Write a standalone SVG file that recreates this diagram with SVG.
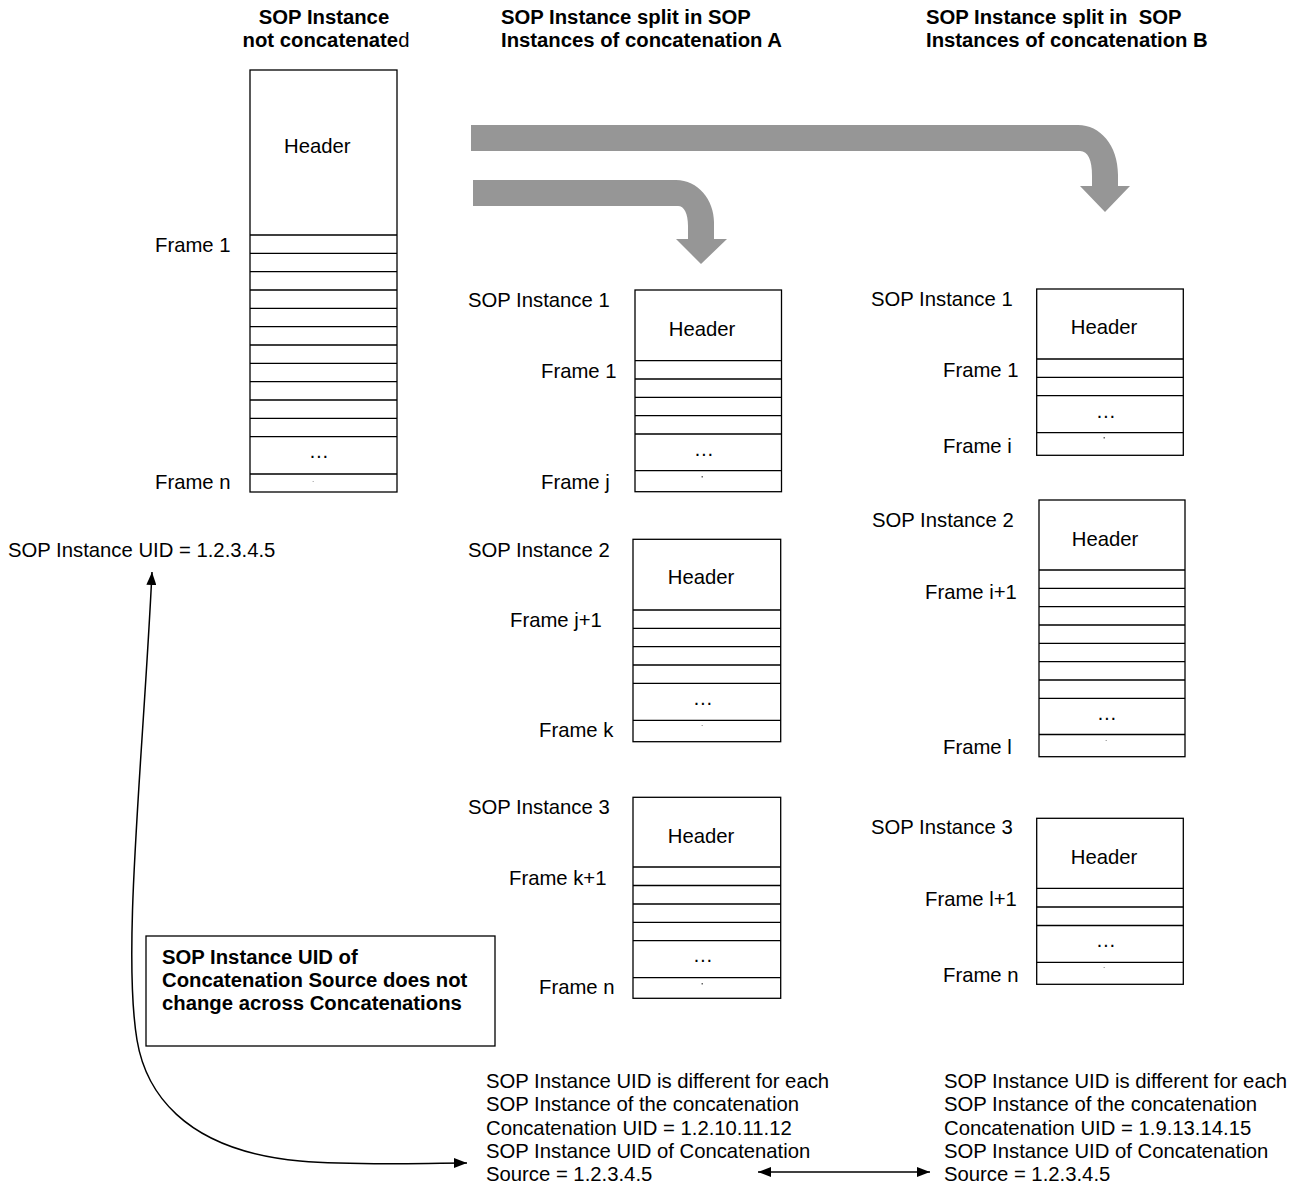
<svg xmlns="http://www.w3.org/2000/svg" width="1310" height="1187" viewBox="0 0 1310 1187">
<style>
.bg{fill:#fff}
.box{fill:#fff;stroke:#000;stroke-width:1.3}
.ln{fill:none;stroke:#000;stroke-width:1.3}
.t{font-family:"Liberation Sans",Arial,sans-serif;font-size:20.3px;fill:#000}
.b{font-weight:bold}
.n{font-weight:normal}
.m{text-anchor:middle}
.ga{fill:#969696}
.conn{fill:none;stroke:#000;stroke-width:1.5}
.dot{fill:#666}
</style>
<defs>
<marker id="ah" viewBox="0 0 13 10" refX="13" refY="5" markerWidth="13" markerHeight="10" markerUnits="userSpaceOnUse" orient="auto-start-reverse">
<path d="M0,0 L13,5 L0,10 Z" fill="#000"/>
</marker>
</defs>
<rect class="bg" x="0" y="0" width="1310" height="1187"/>

<g id="titles">
<text class="t b m" x="324" y="24">SOP Instance</text>
<text class="t b m" x="326" y="47">not concatenate<tspan class="n">d</tspan></text>
<text class="t b" x="501" y="24">SOP Instance split in SOP</text>
<text class="t b" x="501" y="47">Instances of concatenation A</text>
<text class="t b" x="926" y="24" xml:space="preserve">SOP Instance split in  SOP</text>
<text class="t b" x="926" y="47">Instances of concatenation B</text>
</g>

<g id="grey-arrows">
<path class="ga" d="M471 125 L1078 125 C1100 125 1118 145 1118 175 L1118 186 L1130 186 L1105 212 L1080 186 L1092 186 L1092 176 C1092 160 1088 151 1080 151 L471 151 Z"/>
<path class="ga" d="M473 180 L676 180 C698 180 714 200 714 222 L714 239 L727 239 L701 264 L676 239 L688 239 L688 226 C688 213 684 206 678 206 L473 206 Z"/>
</g>

<g id="source">
<rect class="box" x="250" y="70" width="147" height="422"/>
<path class="ln" d="M250 235H397M250 253.3H397M250 271.7H397M250 290H397M250 308.3H397M250 326.7H397M250 345H397M250 363.3H397M250 381.7H397M250 400H397M250 418.3H397M250 436.7H397M250 474H397"/>
<text class="t" x="284" y="153">Header</text>
<text class="t" x="155" y="252">Frame 1</text>
<text class="t m" x="319" y="458">…</text>
<text class="t" x="155" y="489">Frame n</text>
<rect x="312.5" y="481" width="1.5" height="1" fill="#bbb"/>
<text class="t" x="8" y="557">SOP Instance UID = 1.2.3.4.5</text>
</g>

<g id="a1">
<text class="t" x="468" y="307">SOP Instance 1</text>
<rect class="box" x="635" y="290" width="146.5" height="201.7"/>
<path class="ln" d="M635 360.7H781.5M635 379H781.5M635 397.3H781.5M635 415.7H781.5M635 434H781.5M635 470.7H781.5"/>
<text class="t m" x="702" y="336">Header</text>
<text class="t" x="541" y="378">Frame 1</text>
<text class="t m" x="704" y="456">…</text>
<text class="t" x="541" y="489">Frame j</text>
<rect class="dot" x="701.5" y="476" width="1.5" height="1.5"/>
</g>

<g id="a2">
<text class="t" x="468" y="557">SOP Instance 2</text>
<rect class="box" x="633" y="539.3" width="147.7" height="202.4"/>
<path class="ln" d="M633 610H780.7M633 628.3H780.7M633 646.7H780.7M633 665H780.7M633 683.3H780.7M633 720.3H780.7"/>
<text class="t m" x="701" y="584">Header</text>
<text class="t" x="510" y="627">Frame j+1</text>
<text class="t m" x="703" y="705">…</text>
<text class="t" x="539" y="737">Frame k</text>
<rect x="701.5" y="725" width="1.5" height="1" fill="#aaa"/>
</g>

<g id="a3">
<text class="t" x="468" y="814">SOP Instance 3</text>
<rect class="box" x="633" y="797.3" width="147.7" height="201"/>
<path class="ln" d="M633 867H780.7M633 885.5H780.7M633 904H780.7M633 922.3H780.7M633 940.7H780.7M633 977.7H780.7"/>
<text class="t m" x="701" y="843">Header</text>
<text class="t" x="509" y="885">Frame k+1</text>
<text class="t m" x="703" y="962">…</text>
<text class="t" x="539" y="994">Frame n</text>
<rect class="dot" x="701.5" y="983" width="1.5" height="1.5"/>
</g>

<g id="b1">
<text class="t" x="871" y="306">SOP Instance 1</text>
<rect class="box" x="1036.7" y="289" width="146.6" height="166.3"/>
<path class="ln" d="M1036.7 359H1183.3M1036.7 377.3H1183.3M1036.7 395.7H1183.3M1036.7 432.7H1183.3"/>
<text class="t m" x="1104" y="334">Header</text>
<text class="t" x="943" y="377">Frame 1</text>
<text class="t m" x="1106" y="418">…</text>
<text class="t" x="943" y="453">Frame i</text>
<rect class="dot" x="1103.5" y="437" width="1.5" height="1.5"/>
</g>

<g id="b2">
<text class="t" x="872" y="527">SOP Instance 2</text>
<rect class="box" x="1039" y="500" width="146" height="256.7"/>
<path class="ln" d="M1039 570H1185M1039 588.3H1185M1039 606.7H1185M1039 625H1185M1039 643.3H1185M1039 661.7H1185M1039 680H1185M1039 698.3H1185M1039 734.5H1185"/>
<text class="t m" x="1105" y="546">Header</text>
<text class="t" x="925" y="599">Frame i+1</text>
<text class="t m" x="1107" y="720">…</text>
<text class="t" x="943" y="754">Frame l</text>
<rect x="1105.5" y="740" width="1.5" height="1" fill="#aaa"/>
</g>

<g id="b3">
<text class="t" x="871" y="834">SOP Instance 3</text>
<rect class="box" x="1036.7" y="818.3" width="146.6" height="166"/>
<path class="ln" d="M1036.7 888.3H1183.3M1036.7 907H1183.3M1036.7 925.5H1183.3M1036.7 962.3H1183.3"/>
<text class="t m" x="1104" y="864">Header</text>
<text class="t" x="925" y="906">Frame l+1</text>
<text class="t m" x="1106" y="947">…</text>
<text class="t" x="943" y="982">Frame n</text>
<rect x="1103.5" y="967" width="1.5" height="1" fill="#aaa"/>
</g>

<g id="note">
<rect class="box" x="146" y="936" width="349" height="110"/>
<text class="t b" x="162" y="964">SOP Instance UID of</text>
<text class="t b" x="162" y="987">Concatenation Source does not</text>
<text class="t b" x="162" y="1010">change across Concatenations</text>
</g>

<g id="info-a">
<text class="t" x="486" y="1088">SOP Instance UID is different for each</text>
<text class="t" x="486" y="1111">SOP Instance of the concatenation</text>
<text class="t" x="486" y="1134.5">Concatenation UID = 1.2.10.11.12</text>
<text class="t" x="486" y="1157.5">SOP Instance UID of Concatenation</text>
<text class="t" x="486" y="1180.5">Source = 1.2.3.4.5</text>
</g>

<g id="info-b">
<text class="t" x="944" y="1088">SOP Instance UID is different for each</text>
<text class="t" x="944" y="1111">SOP Instance of the concatenation</text>
<text class="t" x="944" y="1134.5">Concatenation UID = 1.9.13.14.15</text>
<text class="t" x="944" y="1157.5">SOP Instance UID of Concatenation</text>
<text class="t" x="944" y="1180.5">Source = 1.2.3.4.5</text>
</g>

<g id="connectors">
<path class="conn" d="M152 572 C143 760 122 950 137 1040 C145 1088 180 1150 300 1161 C360 1166 420 1163 467 1163" marker-start="url(#ah)" marker-end="url(#ah)"/>
<path class="conn" d="M758 1172 L930 1172" marker-start="url(#ah)" marker-end="url(#ah)"/>
</g>
</svg>
